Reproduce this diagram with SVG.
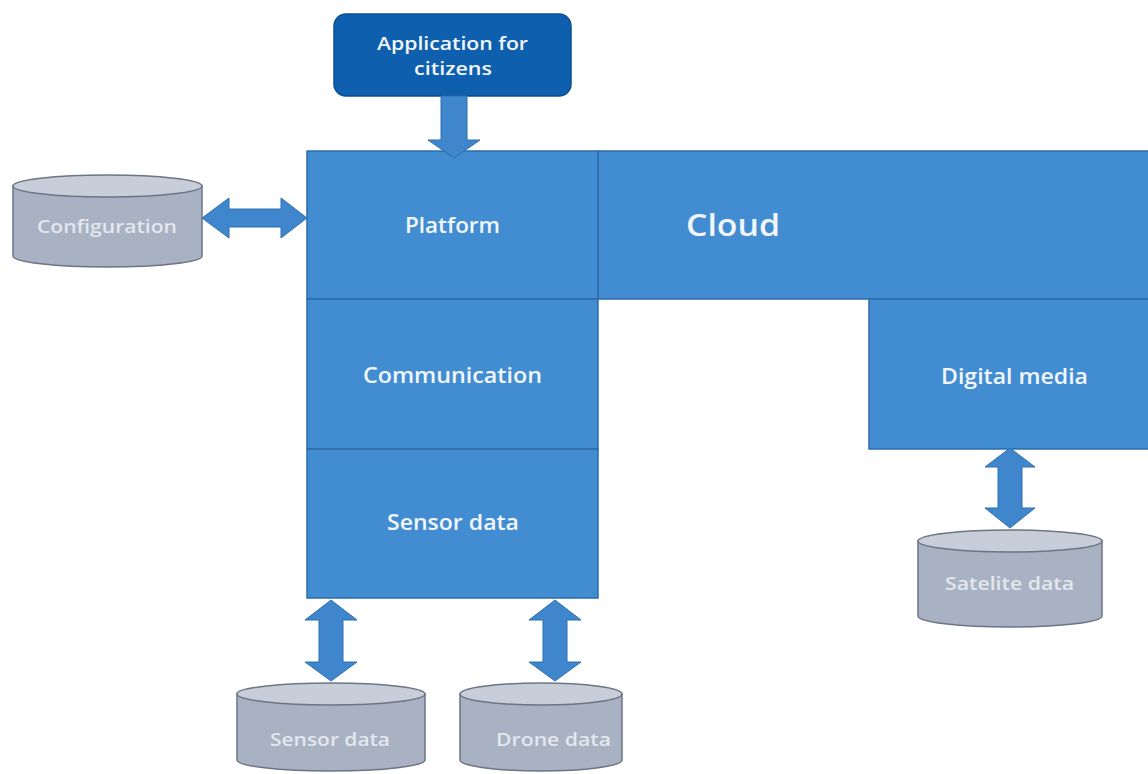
<svg xmlns="http://www.w3.org/2000/svg" width="1148" height="774" viewBox="0 0 1148 774">
<style>
.blk{fill:#428DD2;stroke:#2C6CA6;stroke-width:1.5}
.cyl{fill:#A8B2C3;stroke:#6C7585;stroke-width:1.5}
.cyltop{fill:#C7CED9;stroke:#6C7585;stroke-width:1.5}
.arr{fill:#3F86CC;stroke:#2F6FAE;stroke-width:1}
.t{font-family:"Open Sans","Liberation Sans",sans-serif;fill:#F2F6FB;text-anchor:middle;font-size:21px;font-weight:600}
.tc{font-family:"Open Sans","Liberation Sans",sans-serif;fill:#E3E7ED;text-anchor:middle;font-size:18px;font-weight:600}
</style>
<rect width="1148" height="774" fill="#FFFFFF"/>
<g id="app">
<rect x="334" y="14" width="237" height="82" rx="12" fill="#0E5FAE" stroke="#0A4E93" stroke-width="1.5"/>
<text class="t" x="452.5" y="50" style="font-size:18px" textLength="151" lengthAdjust="spacingAndGlyphs">Application for</text>
<text class="t" x="453" y="75" style="font-size:18px" textLength="78" lengthAdjust="spacingAndGlyphs">citizens</text>
</g>
<g id="cloud">
<rect class="blk" x="598" y="151" width="560" height="148"/>
<text class="t" x="686" y="236" style="text-anchor:start;font-size:30px" textLength="94" lengthAdjust="spacingAndGlyphs">Cloud</text>
</g>
<g id="platform">
<rect class="blk" x="307" y="151" width="291" height="148"/>
<text class="t" x="452.5" y="233" textLength="95" lengthAdjust="spacingAndGlyphs">Platform</text>
</g>
<g id="communication">
<rect class="blk" x="307" y="299" width="291" height="150"/>
<text class="t" x="452.5" y="383" textLength="179" lengthAdjust="spacingAndGlyphs">Communication</text>
</g>
<g id="sensor">
<rect class="blk" x="307" y="449" width="291" height="149"/>
<text class="t" x="453" y="530" textLength="132" lengthAdjust="spacingAndGlyphs">Sensor data</text>
</g>
<g id="digital">
<rect class="blk" x="869" y="299" width="289" height="150"/>
<text class="t" x="1014.5" y="384" textLength="147" lengthAdjust="spacingAndGlyphs">Digital media</text>
</g>
<g id="configuration">
<path class="cyl" d="M13 186 V256 A94.5 11 0 0 0 202 256 V186 Z"/>
<ellipse class="cyltop" cx="107.5" cy="186" rx="94.5" ry="11"/>
<text class="tc" x="107" y="233" textLength="140" lengthAdjust="spacingAndGlyphs">Configuration</text>
</g>
<g id="sensordb">
<path class="cyl" d="M237 694 V760 A94 11 0 0 0 425 760 V694 Z"/>
<ellipse class="cyltop" cx="331" cy="694" rx="94" ry="11"/>
<text class="tc" x="330" y="746" textLength="120" lengthAdjust="spacingAndGlyphs">Sensor data</text>
</g>
<g id="dronedb">
<path class="cyl" d="M460 694 V760 A81 11 0 0 0 622 760 V694 Z"/>
<ellipse class="cyltop" cx="541" cy="694" rx="81" ry="11"/>
<text class="tc" x="553.5" y="746" textLength="115" lengthAdjust="spacingAndGlyphs">Drone data</text>
</g>
<g id="satellitedb">
<path class="cyl" d="M918 541 V616 A92 11 0 0 0 1102 616 V541 Z"/>
<ellipse class="cyltop" cx="1010" cy="541" rx="92" ry="11"/>
<text class="tc" x="1009.5" y="590" textLength="129" lengthAdjust="spacingAndGlyphs">Satelite data</text>
</g>
<g id="connectors">
<path class="arr" d="M441 96 H467 V140 H480 L454 158 L428 140 H441 Z"/>
<path class="arr" d="M202 218 L229 198 V209 H281 V198 L307 218 L281 238 V227 H229 V238 Z"/>
<path class="arr" d="M331 600 L357 620 H343 V662 H357 L331 681 L305 662 H319 V620 H305 Z"/>
<path class="arr" d="M555 600 L581 620 H567 V662 H581 L555 681 L529 662 H543 V620 H529 Z"/>
<path class="arr" d="M1010 448 L1035 467 H1022 V508 H1035 L1010 528 L985 508 H998 V467 H985 Z"/>
</g>
</svg>
